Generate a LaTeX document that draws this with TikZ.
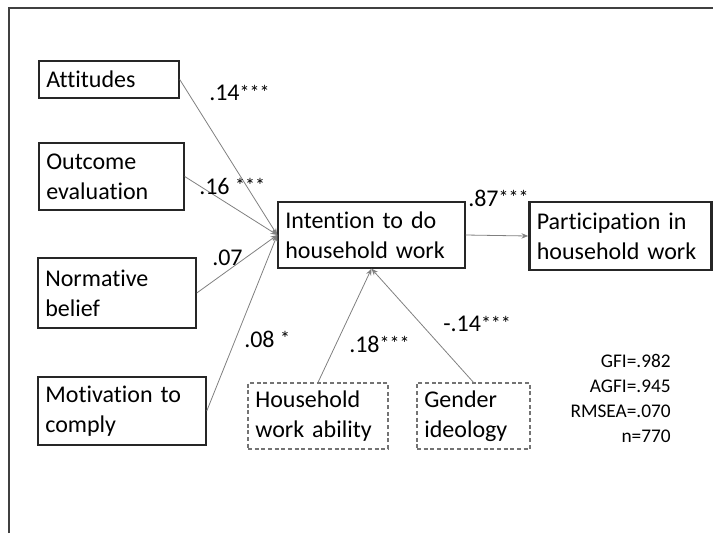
\documentclass[tikz,border=0pt]{standalone}
\usepackage{fontspec}
\setmainfont[Ligatures=NoCommon]{Carlito}
\usetikzlibrary{arrows.meta}
\newcommand{\sig}[1]{\raisebox{1pt}{\fontsize{15}{15}\selectfont #1}}
\begin{document}
\begin{tikzpicture}[x=0.75pt,y=-0.75pt,
  box/.style={draw=black!85,line width=1.1pt,font=\fontsize{18}{22.5}\selectfont,align=left,inner xsep=5pt,inner ysep=0pt,anchor=center},
  softbox/.style={box,draw=black!55,densely dashed,line width=0.9pt},
  thickbox/.style={box,line width=2pt},
  path/.style={draw=black!50,line width=0.6pt,-{Stealth[length=5pt,width=4pt]}},
  coef/.style={font=\fontsize{18}{20}\selectfont,anchor=west,inner sep=0pt},
  stats/.style={font=\fontsize{14.5}{18.75}\selectfont,align=right,anchor=north east,inner sep=0pt}
]
\useasboundingbox (0,0) rectangle (713,533);
\coordinate (f1) at (9,533);
\coordinate (f2) at (9,8);
\coordinate (f3) at (713,8);
\draw[black!75,line width=1pt] (f1) -- (f2) -- (f3);

\node[box,minimum width=105pt,minimum height=27.75pt,text width=94pt] (att) at (109,79.5) {Attitudes};
\node[box,minimum width=108.75pt,minimum height=50.25pt,text width=97.75pt] (out) at (111.5,176.5) {Outcome\\evaluation};
\node[box,minimum width=118.5pt,minimum height=52.5pt,text width=107.5pt] (nor) at (117,293) {Normative\\belief};
\node[box,minimum width=126pt,minimum height=51pt,text width=115pt] (mot) at (122,411) {Motivation to\\comply};
\node[box,minimum width=140.25pt,minimum height=49.5pt,text width=129.25pt] (int) at (371.5,235) {Intention to do\\household work};
\node[thickbox,minimum width=136.5pt,minimum height=51pt,text width=125.5pt] (par) at (620.5,236) {Participation in\\household work};
\node[softbox,minimum width=105pt,minimum height=49.5pt,text width=94pt] (hwa) at (318,416) {Household\\work ability};
\node[softbox,minimum width=84.75pt,minimum height=49.5pt,text width=73.75pt] (gen) at (473.5,416) {Gender\\ideology};

\draw[path] (att.east) -- (int.west);
\draw[path] (out.east) -- (int.west);
\draw[path] (nor.east) -- (int.west);
\draw[path] (mot.east) -- (int.west);
\draw[path] (hwa.north) -- (int.south);
\draw[path] (gen.north) -- (int.south);
\draw[path] (int.east) -- (par.west);

\node[coef] (c1) at (209,93) {.14\sig{***}};
\node[coef] (c2) at (199,186) {.16 \sig{***}};
\node[coef] (c3) at (212,258) {.07};
\node[coef] (c4) at (244,339) {.08 \sig{*}};
\node[coef] (c5) at (349,344) {.18\sig{***}};
\node[coef] (c6) at (443,324) {-.14\sig{***}};
\node[coef] (c7) at (468,198) {.87\sig{***}};

\node[stats] (st) at (671,354) {GFI=.982\\AGFI=.945\\RMSEA=.070\\n=770};
\end{tikzpicture}
\end{document}
